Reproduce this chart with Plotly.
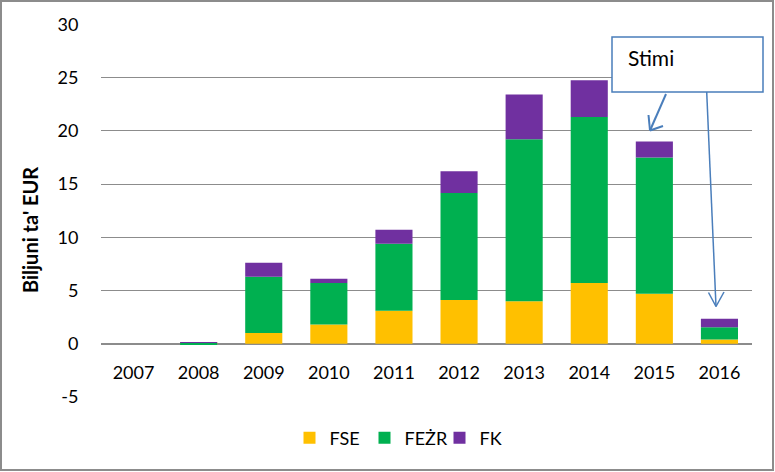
import plotly.graph_objects as go

years = ["2007", "2008", "2009", "2010", "2011", "2012", "2013", "2014", "2015", "2016"]
fse = [0.0, 0.08, 1.0, 1.8, 3.1, 4.1, 4.0, 5.7, 4.7, 0.4]
fezr = [0.0, -0.12, 5.3, 3.9, 6.3, 10.05, 15.2, 15.6, 12.8, 1.15]
fk = [0.0, 0.03, 1.3, 0.4, 1.3, 2.05, 4.2, 3.45, 1.5, 0.8]
y_ticks = [-5, 0, 5, 10, 15, 20, 25, 30]
y_tick_labels = ["-5", "0", "5", "10", "15", "20", "25", "30"]
y_title = "Biljuni ta' EUR"

font_family = "Lato, Liberation Sans, Arial, sans-serif"
grid_col = "#8c8c8c"
arrow_col = "#4A7EBB"

fig = go.Figure()
for name, vals, col in [("FSE", fse, "#FFC000"), ("FEŻR", fezr, "#00B050"), ("FK", fk, "#7030A0")]:
    fig.add_trace(go.Bar(x=years, y=vals, name=name, marker=dict(color=col, line=dict(width=0))))

L, R, T, B = 101, 23, 24, 75
W, H = 775, 472
pw, ph = W - L - R, H - T - B

def px(x):
    return (x - L) / pw

def py(y):
    return (H - B - y) / ph

fig.update_layout(
    width=W, height=H,
    barmode="relative", bargap=0.43,
    plot_bgcolor="white", paper_bgcolor="white",
    margin=dict(l=L, r=R, t=T, b=B, autoexpand=False),
    font=dict(family=font_family, size=18, color="#000000"),
    showlegend=True,
    legend=dict(orientation="h", x=px(402), xanchor="center", y=py(438), yanchor="middle",
                font=dict(size=18), traceorder="normal", itemwidth=30,
                entrywidth=30, entrywidthmode="pixels"),
    xaxis=dict(type="category", range=[-0.5, 9.5], autorange=False, anchor="free", position=py(344),
               showgrid=False, showline=False, zeroline=False, ticks="outside", ticklen=12,
               tickcolor="rgba(0,0,0,0)", tickfont=dict(size=18)),
    yaxis=dict(range=[-5, 30.03], autorange=False, tickvals=y_ticks, ticktext=y_tick_labels,
               showgrid=True, gridcolor=grid_col,
               gridwidth=1, zeroline=True, zerolinecolor=grid_col, zerolinewidth=1.5, showline=False,
               ticks="outside", ticklen=18, tickcolor="rgba(0,0,0,0)", tickfont=dict(size=18)),
)

# y-axis title, placed like the original
fig.add_annotation(xref="paper", yref="paper", x=px(30), y=py(230), textangle=-90,
                   text="<b>" + y_title + "</b>", showarrow=False, font=dict(size=20),
                   xanchor="center", yanchor="middle")

# outer chart border
fig.add_shape(type="rect", xref="paper", yref="paper",
              x0=px(1), x1=px(W - 2), y0=py(H - 2), y1=py(1),
              line=dict(color="#8c8c8c", width=2), fillcolor="rgba(0,0,0,0)", layer="above")

# callout box
fig.add_shape(type="rect", xref="paper", yref="paper",
              x0=px(612), x1=px(763), y0=py(92), y1=py(37),
              line=dict(color=arrow_col, width=1.5), fillcolor="white", layer="above")
fig.add_annotation(xref="paper", yref="paper", x=px(626), y=py(58), xanchor="left", yanchor="middle",
                   text="Stimi", showarrow=False, font=dict(size=21))

# callout arrows (pixel geometry of the callout connectors)
arrows = [
    dict(tail=(666, 94), tip=(650, 130.5), arms=[(648.5, 115), (663, 126)], width=2),
    dict(tail=(706.7, 92), tip=(716, 306.5), arms=[(708.5, 292.5), (724, 292)], width=1.5),
]
for a in arrows:
    segs = [(a["tail"], a["tip"])] + [(arm, a["tip"]) for arm in a["arms"]]
    for (x0, y0), (x1, y1) in segs:
        fig.add_shape(type="line", xref="paper", yref="paper",
                      x0=px(x0), y0=py(y0), x1=px(x1), y1=py(y1),
                      line=dict(color=arrow_col, width=a["width"]), layer="above")

fig.write_html("out.html", config={"displayModeBar": False},
               post_script="document.body.style.margin='0';document.body.style.overflow='hidden';")
